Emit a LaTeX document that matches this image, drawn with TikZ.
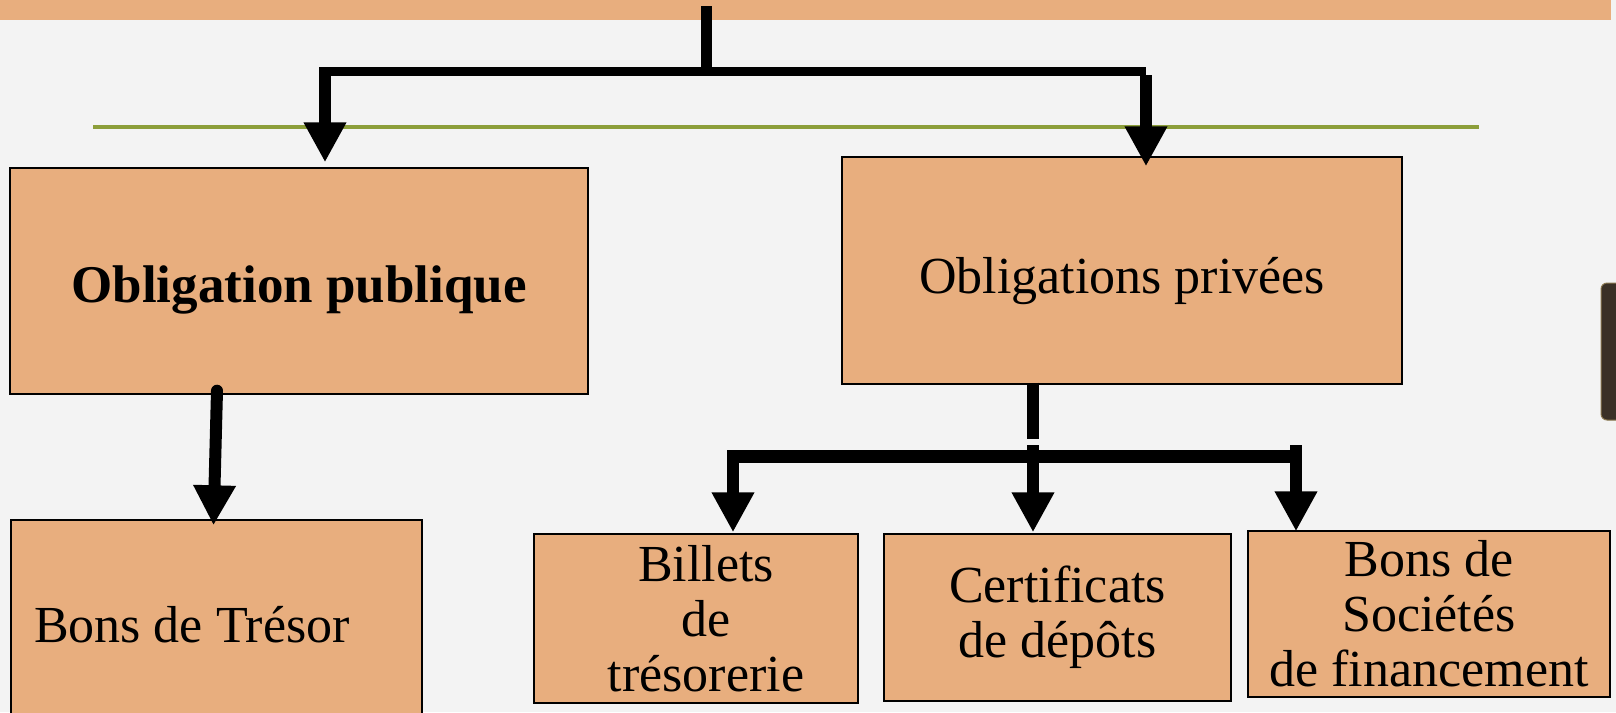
\documentclass[tikz,border=0pt]{standalone}
\usepackage{fontspec}
\setmainfont{Liberation Serif}
\usepackage{tikz}
\usetikzlibrary{arrows.meta,calc}
\usepackage{xcolor}
\definecolor{peach}{HTML}{E8AE7E}
\definecolor{paper}{HTML}{F3F3F3}
\definecolor{olive}{HTML}{8C9E3A}
\definecolor{tabdark}{HTML}{3A3026}
\definecolor{tabedge}{HTML}{8A7850}
\tikzset{
  box/.style={draw=black,line width=1.4pt,fill=peach,align=center,inner sep=0pt,
    font=\fontsize{52}{55}\selectfont},
  band/.style={fill=peach,inner sep=0pt,anchor=north west},
  bar/.style={draw=black,line width=11pt},
  arrow/.style={-{Triangle[length=40pt,width=40pt]},draw=black,line width=12pt},
  rule/.style={draw=olive,line width=3.5pt}
}

\begin{document}
\begin{tikzpicture}[x=1pt,y=-1pt]
  \useasboundingbox (0,0) rectangle (1616,712);
  \clip (0,0) rectangle (1616,712);
  \fill[paper] (0,0) rectangle (1616,712);
  \node[band,minimum width=1611pt,minimum height=20pt] (head) at (0,0) {};
  \draw[rule] (93,127) -- (1479,127);
  \fill[tabdark,draw=tabedge,line width=1pt,rounded corners=6pt] (1601,283) rectangle (1626,420);

  \node[box,minimum width=578pt,minimum height=226pt,text height=54pt,text depth=11pt,font=\fontsize{53}{55}\selectfont\bfseries] (pub) at (299,281) {Obligation publique};
  \node[box,minimum width=560pt,minimum height=227pt,text height=56pt,text depth=11pt] (priv) at (1122,270.5) {Obligations privées};
  \node[box,minimum width=411pt,minimum height=210pt] (tresor) at (216.5,625) {\makebox[365pt][l]{Bons de Trésor}};
  \node[box,minimum width=324pt,minimum height=169pt] (billets) at (696,618.5) {\hspace*{20pt}Billets\\\hspace*{20pt}de\\\hspace*{20pt}trésorerie};
  \node[box,minimum width=347pt,minimum height=167pt] (certif) at (1057.5,617.5) {Certificats\\de dépôts};
  \node[box,minimum width=362pt,minimum height=166pt] (bons) at (1429,614) {Bons de\\Sociétés\\de financement};

  \coordinate (t0) at (706,6);
  \coordinate (tL) at (325,71);
  \coordinate (tR) at (1146,71);
  \draw[bar] (t0) -- (t0 |- tL);
  \draw[bar,line width=9pt] (tL) -- (tR);
  \draw[arrow] ([yshift=4pt]tL) -- ([yshift=5pt]tL |- pub.north);
  \draw[arrow] ([yshift=-4pt]tR) -- ([yshift=-10pt]tR |- priv.north);

  \draw[arrow,line cap=round] ([xshift=-82pt,yshift=4pt]pub.south) -- ([xshift=-3pt,yshift=-6pt]tresor.north);

  \coordinate (bL) at (733,456);
  \coordinate (bM) at (1033,445);
  \coordinate (bR) at (1296,445);
  \draw[bar,line width=12pt] ([yshift=2pt]priv.south -| bM) -- ([yshift=6pt]bM);
  \draw[bar,line width=13pt] ([xshift=-6pt]bL) -- (bL -| bR);
  \draw[arrow] ([yshift=6pt]bL) -- ([yshift=1pt]bL |- billets.north);
  \draw[arrow] (bM) -- ([yshift=1pt]bM |- certif.north);
  \draw[arrow] (bR) -- ([yshift=-1pt]bR |- bons.north);
\end{tikzpicture}
\end{document}
